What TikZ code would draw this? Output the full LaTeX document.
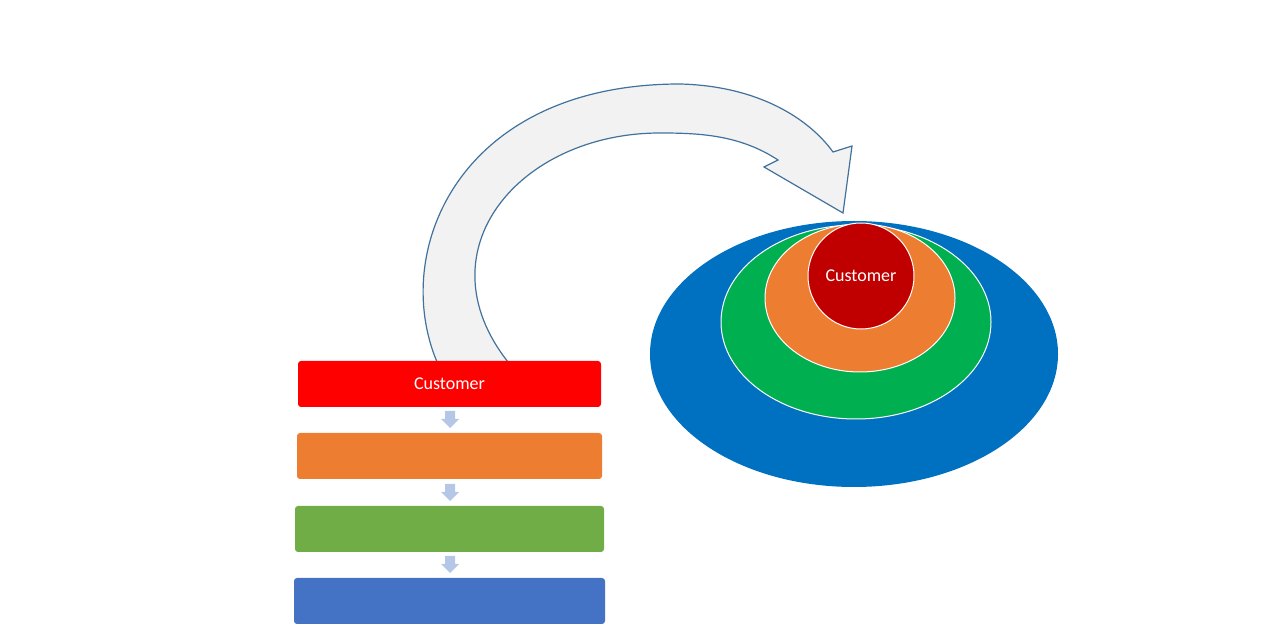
\documentclass[tikz,border=0pt]{standalone}
\usepackage{fontspec}
\setmainfont{Carlito}
\begin{document}
\begin{tikzpicture}[x=0.5pt,y=-0.5pt,
  bar/.style={rounded corners=1.5pt,text=white,font=\small},
  darr/.style={fill=arrblue,draw=none},
  ring/.style={draw=white,line width=0.5pt}]
\definecolor{arrblue}{HTML}{B4C7E7}
\definecolor{arcline}{HTML}{41719C}
\useasboundingbox (0,0) rectangle (1280,640);
% curved arrow
\draw[fill=black!5,draw=arcline,line width=0.6pt] (437,362) .. controls (390,250) and (460,84) .. (680,84) .. controls (760,86) and (810,120) .. (833,152) -- (852,146) -- (843,213) -- (764,167) -- (778,160) .. controls (740,135) and (700,133) .. (660,133) .. controls (520,133) and (420,250) .. (508,362);
% boxes
\node[bar,fill=red,minimum width=151.5pt,minimum height=23pt] (b1) at (449.5,384) {Customer};
\node[bar,fill={rgb,255:red,237;green,125;blue,49},minimum width=152.5pt,minimum height=23pt] (b2) at (449.5,456) {};
\node[bar,fill={rgb,255:red,112;green,173;blue,71},minimum width=154.5pt,minimum height=23pt] (b3) at (449.5,529) {};
\node[bar,fill={rgb,255:red,68;green,114;blue,196},minimum width=155.5pt,minimum height=23pt] (b4) at (449.5,601) {};
\foreach \y in {411,484,556}{
 \fill[arrblue] (445,\y) -- (455,\y) -- (455,\y+8) -- (459,\y+8) -- (450,\y+17) -- (441,\y+8) -- (445,\y+8) -- cycle;}
% ellipses
\fill[fill={rgb,255:red,0;green,112;blue,192}] (854,354) ellipse [x radius=204,y radius=133];
\draw[ring,fill={rgb,255:red,0;green,176;blue,80}] (856,322) ellipse [x radius=135,y radius=97];
\draw[ring,fill={rgb,255:red,237;green,125;blue,49}] (860,298) ellipse [x radius=95,y radius=74];
\draw[ring,fill={rgb,255:red,192;green,0;blue,0}] (861,276) circle [radius=53];
\node[text=white,font=\small] (c) at (861,276) {Customer};
\end{tikzpicture}
\end{document}
